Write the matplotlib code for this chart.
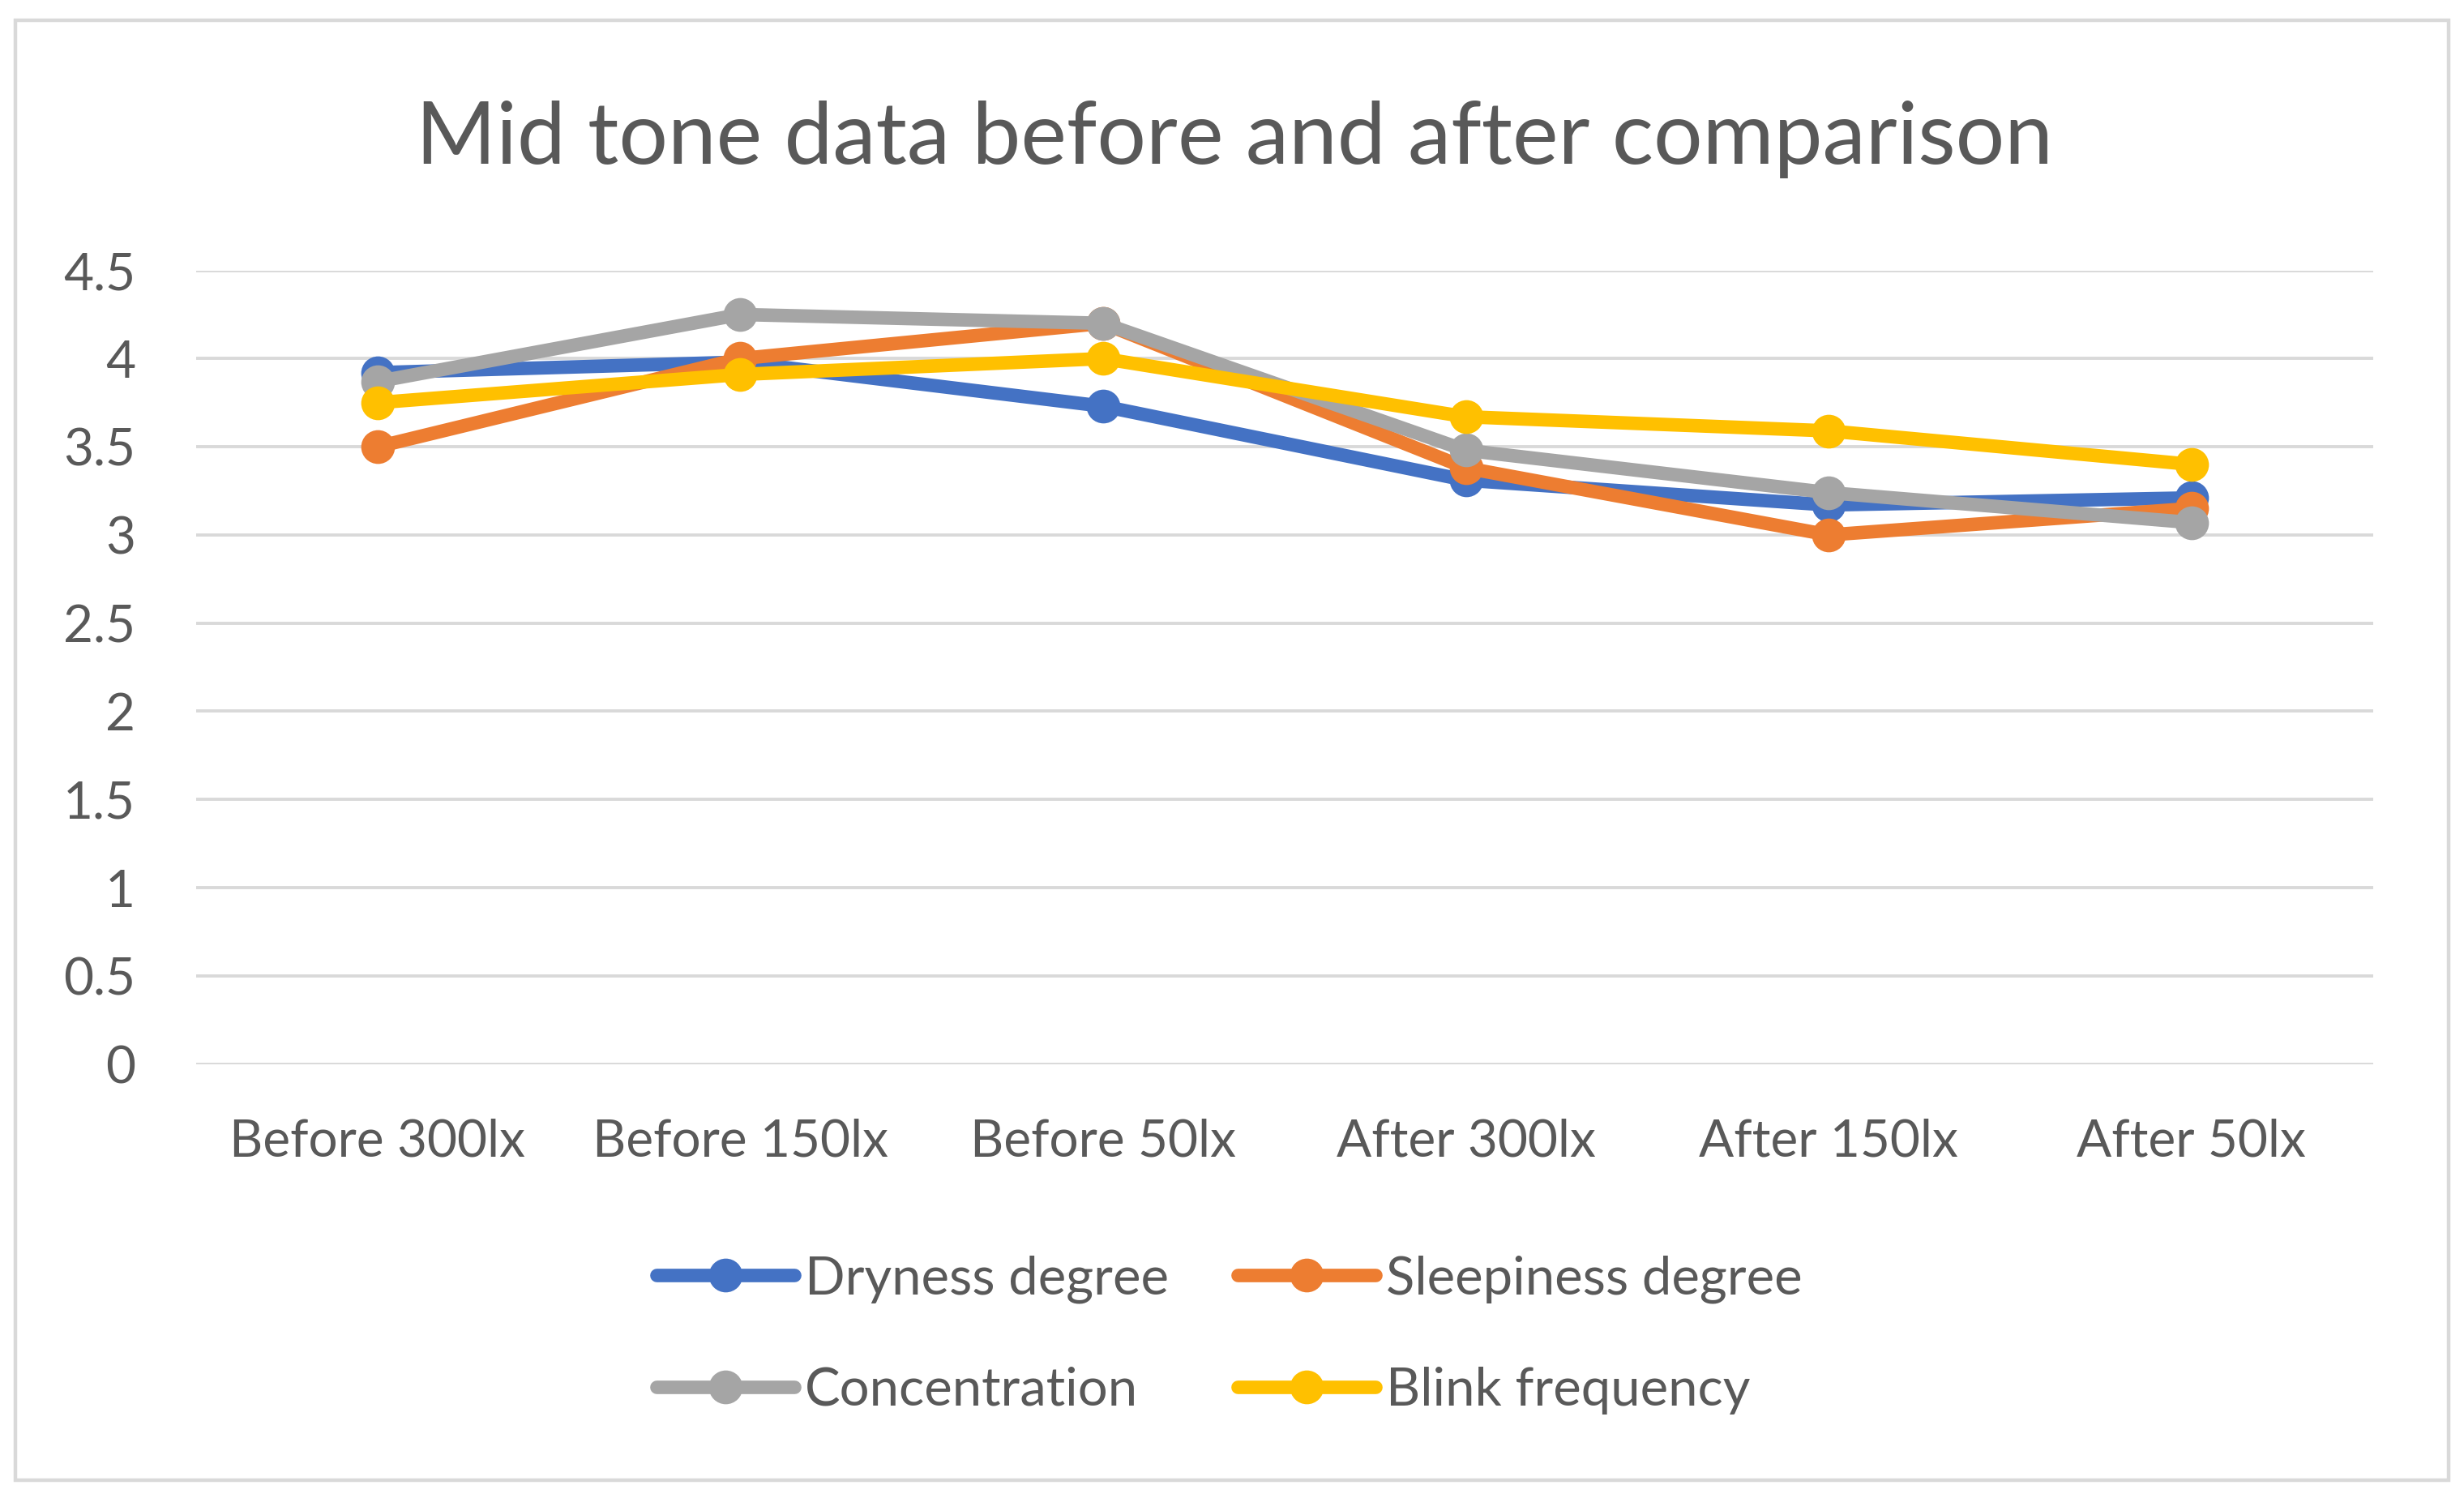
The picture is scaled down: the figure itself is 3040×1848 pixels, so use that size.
import numpy as np
import matplotlib
matplotlib.use('Agg')
import matplotlib.pyplot as plt
from matplotlib.patches import Rectangle

categories = ['Before 300lx', 'Before 150lx', 'Before 50lx',
              'After 300lx', 'After 150lx', 'After 50lx']

dryness = [3.92, 3.98, 3.73, 3.31, 3.17, 3.21]
sleepiness = [3.50, 4.00, 4.20, 3.38, 3.00, 3.15]
concentration = [3.87, 4.25, 4.20, 3.48, 3.24, 3.07]
blink = [3.75, 3.91, 4.00, 3.67, 3.59, 3.40]

series_names = ['Dryness degree', 'Sleepiness degree', 'Concentration', 'Blink frequency']
colors = ['#4472C4', '#ED7D31', '#A5A5A5', '#FFC000']
y_ticks = [0, 0.5, 1, 1.5, 2, 2.5, 3, 3.5, 4, 4.5]

plt.rcParams['font.family'] = ['Lato', 'DejaVu Sans']
text_color = '#595959'

fig = plt.figure(figsize=(15.2, 9.24), dpi=200)
ax = fig.add_axes([0.0796, 0.2897, 0.8834, 0.5298])

x = np.arange(len(categories))
lines = []
for vals, name, c in zip([dryness, sleepiness, concentration, blink], series_names, colors):
    ln, = ax.plot(x, vals, color=c, lw=6, marker='o', ms=14, label=name,
                  solid_capstyle='round', zorder=3)
    lines.append(ln)

ax.set_xlim(-0.5, len(categories) - 0.5)
ax.set_ylim(0, 4.5)
ax.set_yticks(y_ticks)
ax.set_yticklabels([f'{v:g}' for v in y_ticks])
ax.set_xticks(x)
ax.set_xticklabels(categories)
ax.tick_params(length=0, labelsize=23, colors=text_color)
ax.tick_params(axis='y', pad=27)
ax.tick_params(axis='x', pad=24)
ax.grid(axis='y', color='#D9D9D9', lw=1.4, zorder=0)
for s in ax.spines.values():
    s.set_visible(False)

fig.text(0.501, 0.907, 'Mid tone data before and after comparison',
         ha='center', va='center', fontsize=38.5, color=text_color)

# legend fills column-wise, so reorder to get row-wise layout
order = [0, 2, 1, 3]
leg = fig.legend([lines[i] for i in order], [series_names[i] for i in order],
                 loc='center', bbox_to_anchor=(0.499, 0.109), ncol=2, frameon=False,
                 fontsize=23.5, handlelength=2.6, handletextpad=0.2,
                 columnspacing=1.3, labelspacing=1.2)
for t in leg.get_texts():
    t.set_color(text_color)

fig.patches.append(Rectangle((0.00625, 0.0119), 0.9875, 0.9746, transform=fig.transFigure,
                             fill=False, edgecolor='#D9D9D9', lw=1.6))

fig.savefig('out.png', dpi=200, facecolor='white')
